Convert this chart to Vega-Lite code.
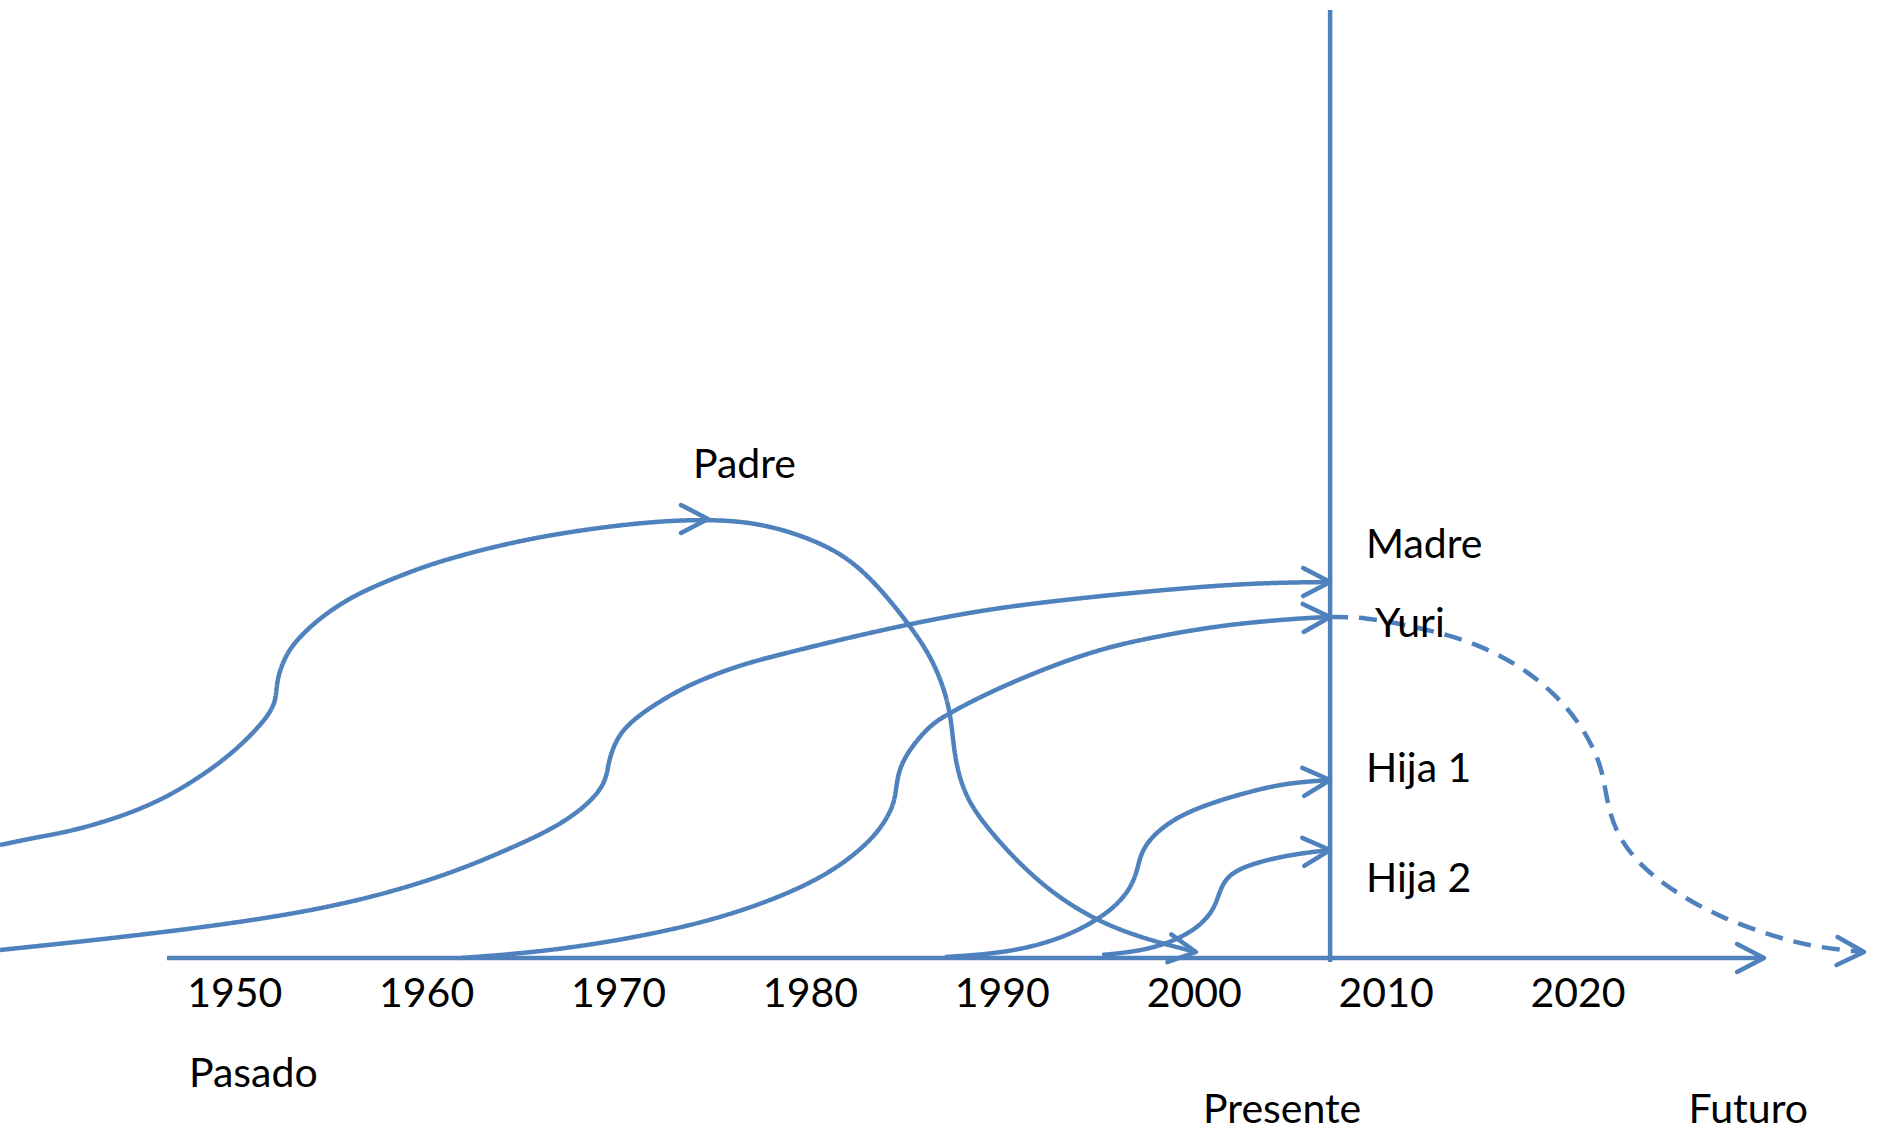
{
  "$schema": "https://vega.github.io/schema/vega-lite/v6.json",
  "width": 1878,
  "height": 1134,
  "autosize": {"type": "fit", "contains": "padding"},
  "padding": 0,
  "background": "white",
  "config": {"view": {"stroke": null}},
  "datasets": {
    "curvas": [
      {"serie": "Padre", "tramo": "trazado", "anio": 1937.77, "nivel": 11.3},
      {"serie": "Padre", "tramo": "trazado", "anio": 1939.49, "nivel": 12.0},
      {"serie": "Padre", "tramo": "trazado", "anio": 1941.26, "nivel": 12.6},
      {"serie": "Padre", "tramo": "trazado", "anio": 1942.98, "nivel": 13.5},
      {"serie": "Padre", "tramo": "trazado", "anio": 1944.70, "nivel": 14.6},
      {"serie": "Padre", "tramo": "trazado", "anio": 1946.47, "nivel": 16.1},
      {"serie": "Padre", "tramo": "trazado", "anio": 1948.19, "nivel": 18.1},
      {"serie": "Padre", "tramo": "trazado", "anio": 1949.91, "nivel": 20.5},
      {"serie": "Padre", "tramo": "trazado", "anio": 1951.47, "nivel": 23.5},
      {"serie": "Padre", "tramo": "trazado", "anio": 1952.00, "nivel": 25.1},
      {"serie": "Padre", "tramo": "trazado", "anio": 1952.15, "nivel": 26.1},
      {"serie": "Padre", "tramo": "trazado", "anio": 1952.20, "nivel": 27.5},
      {"serie": "Padre", "tramo": "trazado", "anio": 1952.36, "nivel": 28.8},
      {"serie": "Padre", "tramo": "trazado", "anio": 1952.73, "nivel": 30.5},
      {"serie": "Padre", "tramo": "trazado", "anio": 1953.25, "nivel": 31.8},
      {"serie": "Padre", "tramo": "trazado", "anio": 1953.92, "nivel": 33.1},
      {"serie": "Padre", "tramo": "trazado", "anio": 1954.81, "nivel": 34.5},
      {"serie": "Padre", "tramo": "trazado", "anio": 1956.01, "nivel": 36.0},
      {"serie": "Padre", "tramo": "trazado", "anio": 1957.42, "nivel": 37.3},
      {"serie": "Padre", "tramo": "trazado", "anio": 1959.13, "nivel": 38.6},
      {"serie": "Padre", "tramo": "trazado", "anio": 1960.85, "nivel": 39.8},
      {"serie": "Padre", "tramo": "trazado", "anio": 1965.44, "nivel": 42.1},
      {"serie": "Padre", "tramo": "trazado", "anio": 1971.12, "nivel": 43.6},
      {"serie": "Padre", "tramo": "trazado", "anio": 1974.66, "nivel": 43.9},
      {"serie": "Padre", "tramo": "trazado", "anio": 1977.53, "nivel": 43.5},
      {"serie": "Padre", "tramo": "trazado", "anio": 1980.71, "nivel": 41.5},
      {"serie": "Padre", "tramo": "trazado", "anio": 1982.85, "nivel": 38.8},
      {"serie": "Padre", "tramo": "trazado", "anio": 1985.19, "nivel": 33.3},
      {"serie": "Padre", "tramo": "trazado", "anio": 1986.39, "nivel": 29.8},
      {"serie": "Padre", "tramo": "trazado", "anio": 1987.12, "nivel": 26.1},
      {"serie": "Padre", "tramo": "trazado", "anio": 1987.38, "nivel": 23.1},
      {"serie": "Padre", "tramo": "trazado", "anio": 1987.53, "nivel": 19.8},
      {"serie": "Padre", "tramo": "trazado", "anio": 1988.06, "nivel": 16.1},
      {"serie": "Padre", "tramo": "trazado", "anio": 1989.26, "nivel": 12.8},
      {"serie": "Padre", "tramo": "trazado", "anio": 1992.02, "nivel": 7.1},
      {"serie": "Padre", "tramo": "trazado", "anio": 1995.61, "nivel": 2.8},
      {"serie": "Padre", "tramo": "trazado", "anio": 2000.09, "nivel": 0.6},

      {"serie": "Madre", "tramo": "trazado", "anio": 1937.77, "nivel": 0.8},
      {"serie": "Madre", "tramo": "trazado", "anio": 1946.26, "nivel": 2.5},
      {"serie": "Madre", "tramo": "trazado", "anio": 1954.81, "nivel": 4.8},
      {"serie": "Madre", "tramo": "trazado", "anio": 1960.70, "nivel": 8.0},
      {"serie": "Madre", "tramo": "trazado", "anio": 1964.19, "nivel": 10.8},
      {"serie": "Madre", "tramo": "trazado", "anio": 1966.80, "nivel": 13.1},
      {"serie": "Madre", "tramo": "trazado", "anio": 1968.51, "nivel": 15.5},
      {"serie": "Madre", "tramo": "trazado", "anio": 1969.30, "nivel": 17.5},
      {"serie": "Madre", "tramo": "trazado", "anio": 1969.45, "nivel": 19.1},
      {"serie": "Madre", "tramo": "trazado", "anio": 1969.56, "nivel": 20.1},
      {"serie": "Madre", "tramo": "trazado", "anio": 1969.82, "nivel": 21.5},
      {"serie": "Madre", "tramo": "trazado", "anio": 1970.23, "nivel": 22.8},
      {"serie": "Madre", "tramo": "trazado", "anio": 1970.96, "nivel": 24.1},
      {"serie": "Madre", "tramo": "trazado", "anio": 1972.01, "nivel": 25.5},
      {"serie": "Madre", "tramo": "trazado", "anio": 1973.36, "nivel": 27.0},
      {"serie": "Madre", "tramo": "trazado", "anio": 1974.92, "nivel": 28.3},
      {"serie": "Madre", "tramo": "trazado", "anio": 1976.70, "nivel": 29.5},
      {"serie": "Madre", "tramo": "trazado", "anio": 1978.94, "nivel": 30.6},
      {"serie": "Madre", "tramo": "trazado", "anio": 1983.63, "nivel": 32.8},
      {"serie": "Madre", "tramo": "trazado", "anio": 1988.84, "nivel": 34.8},
      {"serie": "Madre", "tramo": "trazado", "anio": 1993.16, "nivel": 35.8},
      {"serie": "Madre", "tramo": "trazado", "anio": 1996.65, "nivel": 36.5},
      {"serie": "Madre", "tramo": "trazado", "anio": 2002.54, "nivel": 37.5},
      {"serie": "Madre", "tramo": "trazado", "anio": 2007.08, "nivel": 37.6},

      {"serie": "Yuri", "tramo": "trazado", "anio": 1961.79, "nivel": 0.0},
      {"serie": "Yuri", "tramo": "trazado", "anio": 1965.91, "nivel": 0.6},
      {"serie": "Yuri", "tramo": "trazado", "anio": 1970.23, "nivel": 1.8},
      {"serie": "Yuri", "tramo": "trazado", "anio": 1974.61, "nivel": 3.6},
      {"serie": "Yuri", "tramo": "trazado", "anio": 1978.05, "nivel": 5.8},
      {"serie": "Yuri", "tramo": "trazado", "anio": 1980.66, "nivel": 8.1},
      {"serie": "Yuri", "tramo": "trazado", "anio": 1982.43, "nivel": 10.5},
      {"serie": "Yuri", "tramo": "trazado", "anio": 1983.63, "nivel": 12.8},
      {"serie": "Yuri", "tramo": "trazado", "anio": 1984.30, "nivel": 15.1},
      {"serie": "Yuri", "tramo": "trazado", "anio": 1984.45, "nivel": 16.6},
      {"serie": "Yuri", "tramo": "trazado", "anio": 1984.57, "nivel": 18.5},
      {"serie": "Yuri", "tramo": "trazado", "anio": 1984.93, "nivel": 20.1},
      {"serie": "Yuri", "tramo": "trazado", "anio": 1985.55, "nivel": 21.8},
      {"serie": "Yuri", "tramo": "trazado", "anio": 1986.39, "nivel": 23.5},
      {"serie": "Yuri", "tramo": "trazado", "anio": 1987.27, "nivel": 24.5},
      {"serie": "Yuri", "tramo": "trazado", "anio": 1988.84, "nivel": 26.1},
      {"serie": "Yuri", "tramo": "trazado", "anio": 1990.56, "nivel": 27.6},
      {"serie": "Yuri", "tramo": "trazado", "anio": 1992.33, "nivel": 29.0},
      {"serie": "Yuri", "tramo": "trazado", "anio": 1994.05, "nivel": 30.2},
      {"serie": "Yuri", "tramo": "trazado", "anio": 1996.13, "nivel": 31.4},
      {"serie": "Yuri", "tramo": "trazado", "anio": 1998.79, "nivel": 32.4},
      {"serie": "Yuri", "tramo": "trazado", "anio": 2000.30, "nivel": 32.9},
      {"serie": "Yuri", "tramo": "trazado", "anio": 2002.54, "nivel": 33.5},
      {"serie": "Yuri", "tramo": "trazado", "anio": 2005.72, "nivel": 34.0},
      {"serie": "Yuri", "tramo": "trazado", "anio": 2007.08, "nivel": 34.1},

      {"serie": "Yuri futuro", "tramo": "proyectado", "anio": 2007.08, "nivel": 34.1},
      {"serie": "Yuri futuro", "tramo": "proyectado", "anio": 2008.85, "nivel": 34.1},
      {"serie": "Yuri futuro", "tramo": "proyectado", "anio": 2011.56, "nivel": 33.1},
      {"serie": "Yuri futuro", "tramo": "proyectado", "anio": 2014.27, "nivel": 31.8},
      {"serie": "Yuri futuro", "tramo": "proyectado", "anio": 2016.77, "nivel": 29.5},
      {"serie": "Yuri futuro", "tramo": "proyectado", "anio": 2018.80, "nivel": 26.5},
      {"serie": "Yuri futuro", "tramo": "proyectado", "anio": 2020.36, "nivel": 22.8},
      {"serie": "Yuri futuro", "tramo": "proyectado", "anio": 2021.25, "nivel": 19.1},
      {"serie": "Yuri futuro", "tramo": "proyectado", "anio": 2021.46, "nivel": 16.1},
      {"serie": "Yuri futuro", "tramo": "proyectado", "anio": 2021.93, "nivel": 12.5},
      {"serie": "Yuri futuro", "tramo": "proyectado", "anio": 2023.28, "nivel": 9.1},
      {"serie": "Yuri futuro", "tramo": "proyectado", "anio": 2025.11, "nivel": 6.5},
      {"serie": "Yuri futuro", "tramo": "proyectado", "anio": 2027.35, "nivel": 4.1},
      {"serie": "Yuri futuro", "tramo": "proyectado", "anio": 2030.27, "nivel": 2.1},
      {"serie": "Yuri futuro", "tramo": "proyectado", "anio": 2032.30, "nivel": 1.1},
      {"serie": "Yuri futuro", "tramo": "proyectado", "anio": 2034.90, "nivel": 0.6},

      {"serie": "Hija 1", "tramo": "trazado", "anio": 1987.01, "nivel": 0.1},
      {"serie": "Hija 1", "tramo": "trazado", "anio": 1990.30, "nivel": 0.5},
      {"serie": "Hija 1", "tramo": "trazado", "anio": 1993.48, "nivel": 2.1},
      {"serie": "Hija 1", "tramo": "trazado", "anio": 1996.03, "nivel": 5.1},
      {"serie": "Hija 1", "tramo": "trazado", "anio": 1996.92, "nivel": 7.8},
      {"serie": "Hija 1", "tramo": "trazado", "anio": 1997.12, "nivel": 9.8},
      {"serie": "Hija 1", "tramo": "trazado", "anio": 1997.54, "nivel": 11.8},
      {"serie": "Hija 1", "tramo": "trazado", "anio": 1999.26, "nivel": 14.5},
      {"serie": "Hija 1", "tramo": "trazado", "anio": 2002.54, "nivel": 16.5},
      {"serie": "Hija 1", "tramo": "trazado", "anio": 2004.78, "nivel": 17.5},
      {"serie": "Hija 1", "tramo": "trazado", "anio": 2007.08, "nivel": 17.8},

      {"serie": "Hija 2", "tramo": "trazado", "anio": 1995.20, "nivel": 0.3},
      {"serie": "Hija 2", "tramo": "trazado", "anio": 1997.75, "nivel": 0.8},
      {"serie": "Hija 2", "tramo": "trazado", "anio": 1999.89, "nivel": 2.5},
      {"serie": "Hija 2", "tramo": "trazado", "anio": 2000.93, "nivel": 4.5},
      {"serie": "Hija 2", "tramo": "trazado", "anio": 2001.24, "nivel": 6.1},
      {"serie": "Hija 2", "tramo": "trazado", "anio": 2001.55, "nivel": 7.8},
      {"serie": "Hija 2", "tramo": "trazado", "anio": 2002.39, "nivel": 9.1},
      {"serie": "Hija 2", "tramo": "trazado", "anio": 2004.78, "nivel": 10.3},
      {"serie": "Hija 2", "tramo": "trazado", "anio": 2007.08, "nivel": 10.8}
    ],
    "ejes": [
      {"eje": "tiempo", "x1": 1946.47, "x2": 2029.69, "y1": 0, "y2": 0},
      {"eje": "presente", "x1": 2007.08, "x2": 2007.08, "y1": -0.4, "y2": 94.8}
    ],
    "flechas": [
      {"serie": "Padre", "anio": 1974.66, "nivel": 43.9, "rumbo": 0},
      {"serie": "Padre", "anio": 2000.09, "nivel": 0.6, "rumbo": 8},
      {"serie": "Madre", "anio": 2007.08, "nivel": 37.6, "rumbo": 0},
      {"serie": "Yuri", "anio": 2007.08, "nivel": 34.1, "rumbo": 358},
      {"serie": "Hija 1", "anio": 2007.08, "nivel": 17.8, "rumbo": 356},
      {"serie": "Hija 2", "anio": 2007.08, "nivel": 10.8, "rumbo": 356},
      {"serie": "Yuri futuro", "anio": 2034.90, "nivel": 0.6, "rumbo": 2},
      {"serie": "tiempo", "anio": 2029.69, "nivel": 0, "rumbo": 0}
    ],
    "anios": [
      {"texto": "1950", "anio": 1950, "nivel": -4.9},
      {"texto": "1960", "anio": 1960, "nivel": -4.9},
      {"texto": "1970", "anio": 1970, "nivel": -4.9},
      {"texto": "1980", "anio": 1980, "nivel": -4.9},
      {"texto": "1990", "anio": 1990, "nivel": -4.9},
      {"texto": "2000", "anio": 2000, "nivel": -4.9},
      {"texto": "2010", "anio": 2010, "nivel": -4.9},
      {"texto": "2020", "anio": 2020, "nivel": -4.9}
    ],
    "nombres": [
      {"texto": "Padre", "anio": 1973.88, "nivel": 48.0},
      {"texto": "Madre", "anio": 2008.95, "nivel": 40.0},
      {"texto": "Yuri", "anio": 2009.42, "nivel": 32.1},
      {"texto": "Hija 1", "anio": 2008.95, "nivel": 17.6},
      {"texto": "Hija 2", "anio": 2008.95, "nivel": 6.6},
      {"texto": "Pasado", "anio": 1947.62, "nivel": -12.9},
      {"texto": "Presente", "anio": 2000.46, "nivel": -16.5},
      {"texto": "Futuro", "anio": 2025.76, "nivel": -16.5}
    ]
  },
  "layer": [
    {
      "data": {"name": "ejes"},
      "mark": {"type": "rule", "color": "#4F81BD", "strokeWidth": 4.5},
      "encoding": {
        "x": {"field": "x1", "type": "quantitative", "scale": {"domain": [1937.77, 2035.63], "nice": false, "zero": false}, "axis": null},
        "x2": {"field": "x2"},
        "y": {"field": "y1", "type": "quantitative", "scale": {"domain": [-17.6, 95.8], "nice": false, "zero": false}, "axis": null},
        "y2": {"field": "y2"}
      }
    },
    {
      "data": {"name": "curvas"},
      "mark": {"type": "line", "interpolate": "basis", "color": "#4F81BD", "strokeWidth": 4.5, "clip": true},
      "encoding": {
        "x": {"field": "anio", "type": "quantitative", "scale": {"domain": [1937.77, 2035.63], "nice": false, "zero": false}, "axis": null},
        "y": {"field": "nivel", "type": "quantitative", "scale": {"domain": [-17.6, 95.8], "nice": false, "zero": false}, "axis": null},
        "detail": {"field": "serie", "type": "nominal"},
        "strokeDash": {"field": "tramo", "type": "nominal", "scale": {"domain": ["trazado", "proyectado"], "range": [[1, 0], [18, 11]]}, "legend": null}
      }
    },
    {
      "data": {"name": "flechas"},
      "mark": {"type": "point", "shape": "M-1,-0.52L0,0L-1,0.52", "filled": false, "size": 2900, "strokeWidth": 4.5, "color": "#4F81BD", "opacity": 1, "strokeCap": "round", "strokeJoin": "round"},
      "encoding": {
        "x": {"field": "anio", "type": "quantitative", "axis": null},
        "y": {"field": "nivel", "type": "quantitative", "axis": null},
        "angle": {"field": "rumbo", "type": "quantitative", "scale": null}
      }
    },
    {
      "data": {"name": "anios"},
      "mark": {"type": "text", "font": "Lato", "fontSize": 41, "color": "black", "align": "center", "baseline": "alphabetic"},
      "encoding": {
        "x": {"field": "anio", "type": "quantitative", "axis": null},
        "y": {"field": "nivel", "type": "quantitative", "axis": null},
        "text": {"field": "texto", "type": "nominal"}
      }
    },
    {
      "data": {"name": "nombres"},
      "mark": {"type": "text", "font": "Lato", "fontSize": 41, "color": "black", "align": "left", "baseline": "alphabetic"},
      "encoding": {
        "x": {"field": "anio", "type": "quantitative", "axis": null},
        "y": {"field": "nivel", "type": "quantitative", "axis": null},
        "text": {"field": "texto", "type": "nominal"}
      }
    }
  ]
}
